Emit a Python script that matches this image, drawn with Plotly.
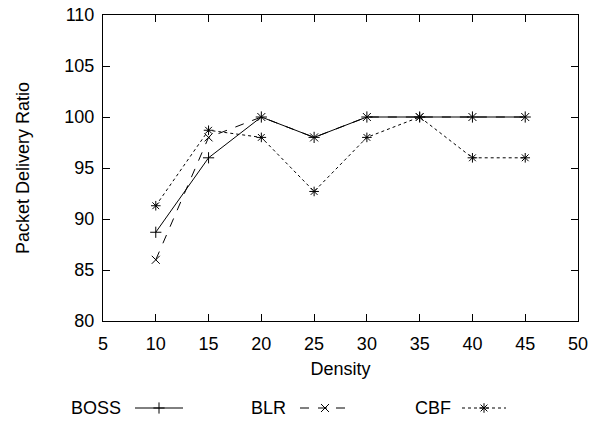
import plotly.graph_objects as go

density = [10, 15, 20, 25, 30, 35, 40, 45]
boss = [88.7, 96.0, 100.0, 98.0, 100.0, 100.0, 100.0, 100.0]
blr = [86.0, 98.0, 100.0, 98.0, 100.0, 100.0, 100.0, 100.0]
cbf = [91.3, 98.7, 98.0, 92.7, 98.0, 100.0, 96.0, 96.0]
series_names = ["BOSS", "BLR", "CBF"]
x_ticks = [5, 10, 15, 20, 25, 30, 35, 40, 45, 50]
y_ticks = [80, 85, 90, 95, 100, 105, 110]

FONT = "Liberation Sans, Arial, Helvetica, sans-serif"
FS = 18
W, H = 595, 426
PLOT_L, PLOT_R, PLOT_T, PLOT_B = 103, 578, 15, 321   # page pixels
L = PLOT_L
R = W - PLOT_R
T = PLOT_T
B = 0
area_bottom = H - B
plot_h = H - T - B


def frac(page_y):
    return (area_bottom - page_y) / plot_h


styles = [
    dict(dash="solid", symbol="cross-thin-open"),
    dict(dash="dash", symbol="x-thin-open"),
    dict(dash="dot", symbol="asterisk-open"),
]

fig = go.Figure()
for name, ys, st in zip(series_names, [boss, blr, cbf], styles):
    fig.add_trace(go.Scatter(
        x=density, y=ys, name=name, mode="lines+markers",
        line=dict(color="black", width=1, dash=st["dash"]),
        marker=dict(symbol=st["symbol"], size=8, color="black",
                    line=dict(color="black", width=1)),
        showlegend=False, cliponaxis=False,
    ))

# manual legend (text left of sample, gnuplot style) in page pixel coords
leg_text_right = [123, 288, 453]
leg_sample = [(135, 183), (300, 350), (462, 506)]
for name, st, tx, (s0, s1) in zip(series_names, styles, leg_text_right, leg_sample):
    fig.add_trace(go.Scatter(
        x=[s0, s1], y=[0.5, 0.5], mode="lines", xaxis="x2", yaxis="y2",
        line=dict(color="black", width=1, dash=st["dash"]), showlegend=False,
        hoverinfo="skip",
    ))
    fig.add_trace(go.Scatter(
        x=[(s0 + s1) / 2], y=[0.5], mode="markers", xaxis="x2", yaxis="y2",
        marker=dict(symbol=st["symbol"], size=8, color="black",
                    line=dict(color="black", width=1)),
        showlegend=False, hoverinfo="skip", cliponaxis=False,
    ))
    fig.add_annotation(
        x=tx, y=0.5, xref="x2", yref="y2",
        text=name, showarrow=False, xanchor="right", yanchor="middle",
        font=dict(family=FONT, size=FS, color="black"),
    )

axis_common = dict(
    showgrid=False, zeroline=False, showline=True, linecolor="black",
    linewidth=1, mirror="ticks", ticks="inside", ticklen=7,
    tickcolor="black", tickfont=dict(family=FONT, size=FS, color="black"),
    ticklabeloverflow="allow", automargin=False,
)

fig.update_layout(
    width=W, height=H,
    margin=dict(l=L, r=R, t=T, b=B, autoexpand=False),
    paper_bgcolor="white", plot_bgcolor="white",
    font=dict(family=FONT, size=FS, color="black"),
    xaxis=dict(range=[5, 50], tickvals=x_ticks, anchor="y", ticklabelstandoff=6,
               title=dict(text="Density", font=dict(family=FONT, size=FS), standoff=9),
               **axis_common),
    yaxis=dict(range=[80, 110], tickvals=y_ticks, domain=[frac(PLOT_B), 1],
               ticklabelstandoff=4,
               title=dict(text="Packet Delivery Ratio", font=dict(family=FONT, size=FS), standoff=30),
               **axis_common),
    xaxis2=dict(range=[PLOT_L, PLOT_R], domain=[0, 1], anchor="y2", visible=False,
                automargin=False),
    yaxis2=dict(range=[0, 1], domain=[frac(418), frac(398)], anchor="x2", visible=False,
                automargin=False),
)

fig.write_html("out.html", config={"displayModeBar": False},
               post_script="document.body.style.margin='0';")
